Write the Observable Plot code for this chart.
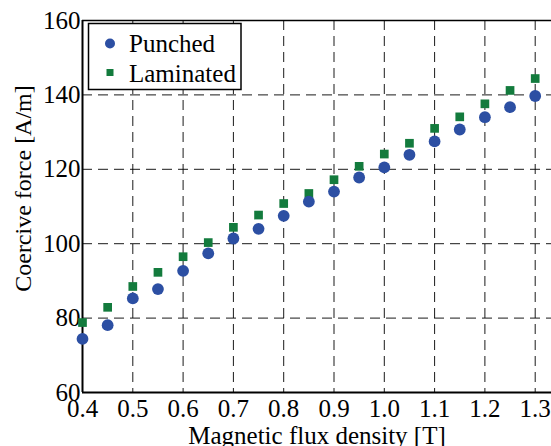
<!DOCTYPE html>
<html>
<head>
<meta charset="utf-8">
<script src="https://cdn.jsdelivr.net/npm/d3@7"></script>
<script src="https://cdn.jsdelivr.net/npm/@observablehq/plot@0.6"></script>
<style>
  html, body { margin: 0; padding: 0; background: #fff; }
  #chart { position: relative; width: 551px; height: 446px; }
</style>
</head>
<body>
<div id="chart"></div>
<script>
// Data
const flux = [0.4, 0.45, 0.5, 0.55, 0.6, 0.65, 0.7, 0.75, 0.8, 0.85, 0.9, 0.95, 1.0, 1.05, 1.1, 1.15, 1.2, 1.25, 1.3];
const punched = [74.4, 78.1, 85.3, 87.8, 92.7, 97.4, 101.4, 104.0, 107.5, 111.3, 114.0, 117.8, 120.5, 123.9, 127.5, 130.7, 134.0, 136.7, 139.7];
const laminated = [78.8, 82.9, 88.5, 92.3, 96.5, 100.3, 104.4, 107.7, 110.8, 113.5, 117.2, 120.8, 124.1, 127.0, 131.0, 134.1, 137.6, 141.2, 144.4];
const xTicks = [0.4, 0.5, 0.6, 0.7, 0.8, 0.9, 1.0, 1.1, 1.2, 1.3];
const yTicks = [60, 80, 100, 120, 140, 160];
const seriesNames = ["Punched", "Laminated"];
const xLabel = "Magnetic flux density [T]";
const yLabel = "Coercive force [A/m]";

const colors = {Punched: "#2c4fa3", Laminated: "#137b3d"};
const font = "Liberation Serif";

const punchedData = flux.map((x, i) => ({x, y: punched[i]}));
const laminatedData = flux.map((x, i) => ({x, y: laminated[i]}));

const grid = {stroke: "#000", strokeOpacity: 0.9, strokeWidth: 1, strokeDasharray: "10,6"};
const txt = {fontFamily: font, fill: "#000"};

const plot = Plot.plot({
  width: 551,
  height: 446,
  marginLeft: 82,
  marginRight: 0,
  marginTop: 20,
  marginBottom: 54,
  style: {fontFamily: font, fontSize: "25px", background: "#fff", color: "#000"},
  x: {domain: [0.4, 1.3324]},
  y: {domain: [60, 160]},
  marks: [
    Plot.gridX(xTicks, grid),
    Plot.gridY(yTicks, grid),
    Plot.ruleY([160], {stroke: "#000", strokeWidth: 1.5}),
    Plot.ruleX([0.4], {stroke: "#000", strokeWidth: 2}),
    Plot.ruleY([60], {stroke: "#000", strokeWidth: 2}),
    Plot.axisX(xTicks, {...txt, tickSize: 0, tickPadding: 7, tickFormat: d => d.toFixed(1), label: null, fontSize: 25}),
    Plot.axisY(yTicks, {...txt, tickSize: 0, tickPadding: 2, tickFormat: d => String(d), label: null, fontSize: 25}),
    Plot.dot(laminatedData, {x: "x", y: "y", symbol: "square", r: 4.9, fill: colors.Laminated, stroke: "none"}),
    Plot.dot(punchedData, {x: "x", y: "y", symbol: "circle", r: 5.9, fill: colors.Punched, stroke: "none"}),
    Plot.text([xLabel], {...txt, frameAnchor: "bottom", textAnchor: "middle", lineAnchor: "bottom", dy: 51, fontSize: 25}),
    Plot.text([yLabel], {...txt, frameAnchor: "left", textAnchor: "middle", lineAnchor: "bottom", rotate: -90, dx: -52, dy: -18, fontSize: 24})
  ]
});

document.getElementById("chart").appendChild(plot);

// In-plot legend
const svg = d3.select(plot);
const lg = svg.append("g").attr("font-family", font).attr("font-size", 25).attr("text-anchor", "start");
lg.append("rect").attr("x", 88.5).attr("y", 23.5).attr("width", 152.5).attr("height", 66)
  .attr("fill", "#fff").attr("stroke", "#000").attr("stroke-width", 1.5);
lg.append("circle").attr("cx", 110).attr("cy", 43.5).attr("r", 5).attr("fill", colors.Punched);
lg.append("rect").attr("x", 106.5).attr("y", 69).attr("width", 7).attr("height", 7).attr("fill", colors.Laminated);
lg.append("text").attr("x", 129).attr("y", 52).attr("fill", "#000").text(seriesNames[0]);
lg.append("text").attr("x", 129).attr("y", 81.5).attr("fill", "#000").text(seriesNames[1]);
</script>
</body>
</html>
